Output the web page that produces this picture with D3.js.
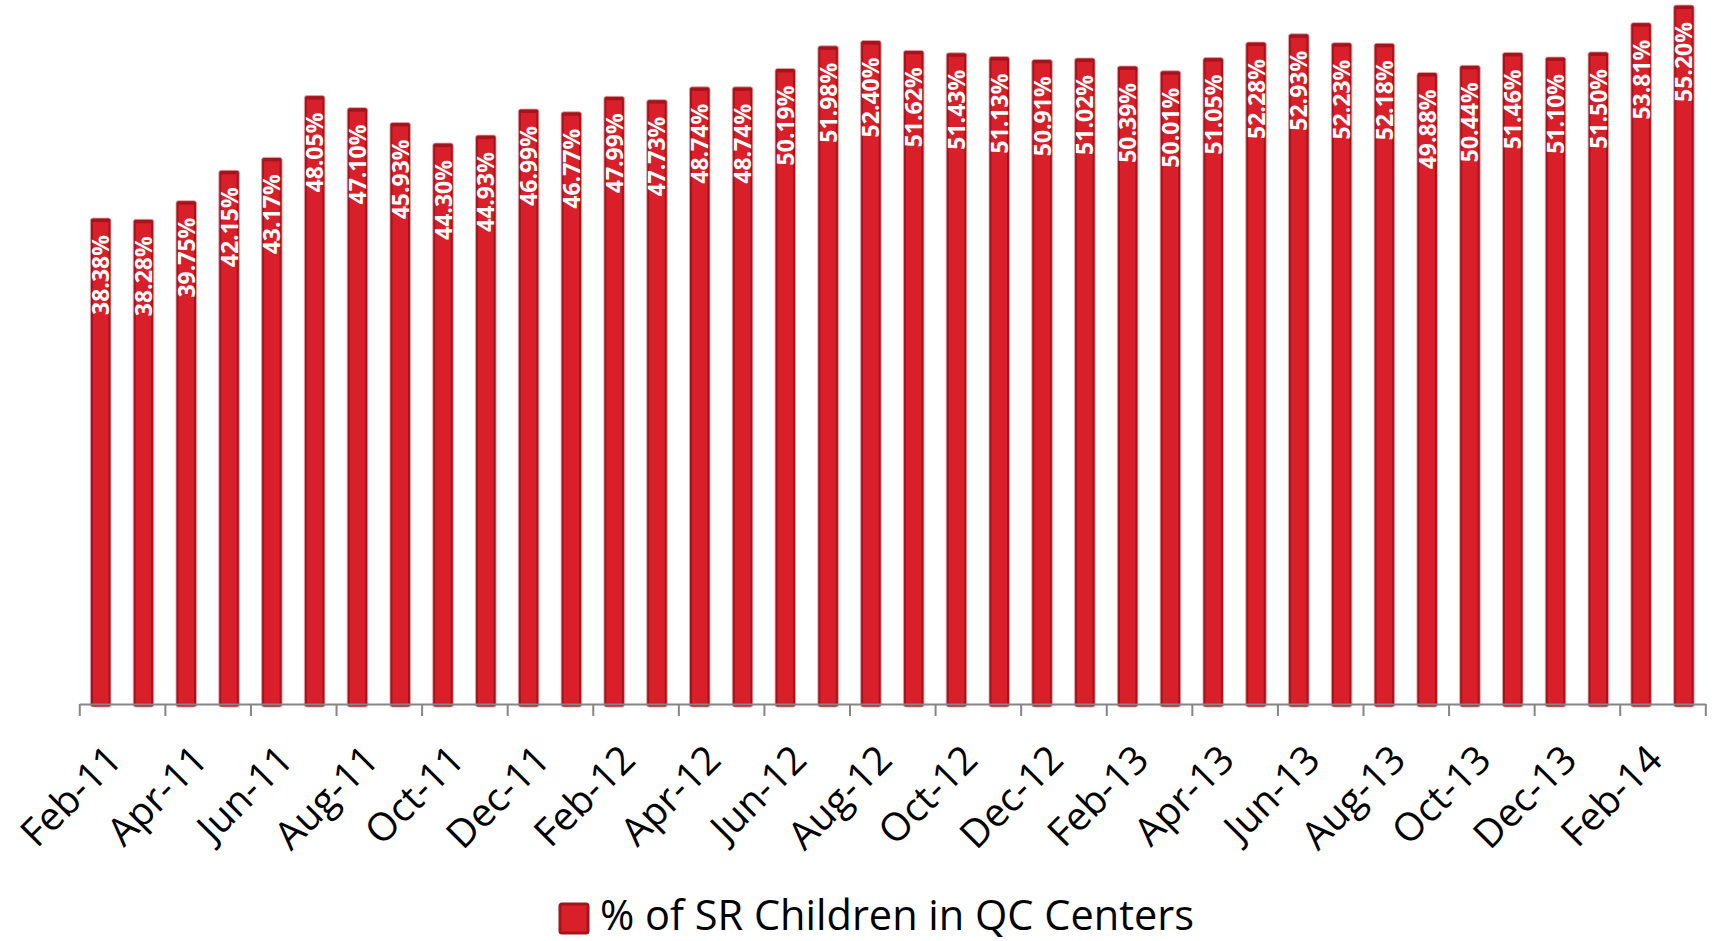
<!DOCTYPE html>
<html>
<head>
<meta charset="utf-8">
<script src="https://cdn.jsdelivr.net/npm/d3@7"></script>
<style>
  body { margin: 0; background: #fff; }
  svg { display: block; font-family: 'Open Sans', sans-serif; }
</style>
</head>
<body>
<svg width="1715" height="941"></svg>
<script>
// months shown on the chart, one per bar
const months = [
	'Feb-11', 'Mar-11', 'Apr-11', 'May-11', 'Jun-11', 'Jul-11', 'Aug-11', 'Sep-11', 'Oct-11', 'Nov-11', 'Dec-11',
	'Jan-12', 'Feb-12', 'Mar-12', 'Apr-12', 'May-12', 'Jun-12', 'Jul-12', 'Aug-12', 'Sep-12', 'Oct-12', 'Nov-12', 'Dec-12',
	'Jan-13', 'Feb-13', 'Mar-13', 'Apr-13', 'May-13', 'Jun-13', 'Jul-13', 'Aug-13', 'Sep-13', 'Oct-13', 'Nov-13', 'Dec-13',
	'Jan-14', 'Feb-14', 'Mar-14'
];

// % of SR children in QC centers
const values = [
	38.38, 38.28, 39.75, 42.15, 43.17, 48.05, 47.10, 45.93, 44.30, 44.93, 46.99,
	46.77, 47.99, 47.73, 48.74, 48.74, 50.19, 51.98, 52.40, 51.62, 51.43, 51.13, 50.91,
	51.02, 50.39, 50.01, 51.05, 52.28, 52.93, 52.23, 52.18, 49.88, 50.44, 51.46, 51.10,
	51.50, 53.81, 55.20
];

const seriesName = '% of SR Children in QC Centers';

const svg = d3.select('svg');

const left = 79.3;
const right = 1705.3;
const baseY = 704;

// index scale: boundaries between months
const xIdx = d3.scaleLinear().domain([ 0, months.length ]).range([ left, right ]);
const yScale = d3.scaleLinear().domain([ 0, 55.6 ]).range([ baseY, 0 ]);
const barW = 20.5;

const bars = svg.append('g').selectAll('g').data(values).enter().append('g');

// dark shell of each column
bars
	.append('rect')
	.attr('x', (d, i) => xIdx(i + 0.5) - barW / 2)
	.attr('y', (d) => yScale(d))
	.attr('width', barW)
	.attr('height', (d) => baseY - yScale(d) + 3)
	.attr('rx', 2.5)
	.attr('fill', '#a5141c')
	.attr('stroke', '#e9a3a6')
	.attr('stroke-width', 0.8);

// lighter front face
bars
	.append('rect')
	.attr('x', (d, i) => xIdx(i + 0.5) - barW / 2 + 2.5)
	.attr('y', (d) => yScale(d) + 4)
	.attr('width', barW - 5)
	.attr('height', (d) => baseY - yScale(d) - 4)
	.attr('fill', '#d91f2a');

bars
	.append('text')
	.attr('transform', (d, i) => `translate(${xIdx(i + 0.5) + 8.5}, ${yScale(d) + 17}) rotate(-90)`)
	.attr('text-anchor', 'end')
	.attr('fill', '#fff')
	.attr('font-weight', 700)
	.attr('font-size', 23)
	.text((d) => d.toFixed(2) + '%');

// axis line with a tick every second month
const axis = svg
	.append('g')
	.attr('transform', `translate(0, ${baseY})`)
	.call(d3.axisBottom(xIdx).tickValues(d3.range(0, months.length + 1, 2)).tickSize(12).tickSizeOuter(0).tickFormat(''));
axis.selectAll('path, line').attr('stroke', '#868686').attr('stroke-width', 2);

svg
	.append('g')
	.selectAll('text')
	.data(months.filter((m, i) => i % 2 === 0))
	.enter()
	.append('text')
	.attr('transform', (d, k) => `translate(${xIdx(2 * k + 1) + 2}, ${baseY + 58}) rotate(-45)`)
	.attr('text-anchor', 'end')
	.attr('font-size', 39)
	.attr('fill', '#000')
	.text((d) => d);

// legend
const legend = svg.append('g').attr('transform', 'translate(560, 904)');
legend
	.append('rect')
	.attr('width', 28)
	.attr('height', 29)
	.attr('rx', 2)
	.attr('fill', '#d91f2a')
	.attr('stroke', '#a5141c')
	.attr('stroke-width', 3);
legend.append('text').attr('x', 40).attr('y', 26).attr('font-size', 41.5).attr('fill', '#000').text(seriesName);
</script>
</body>
</html>
